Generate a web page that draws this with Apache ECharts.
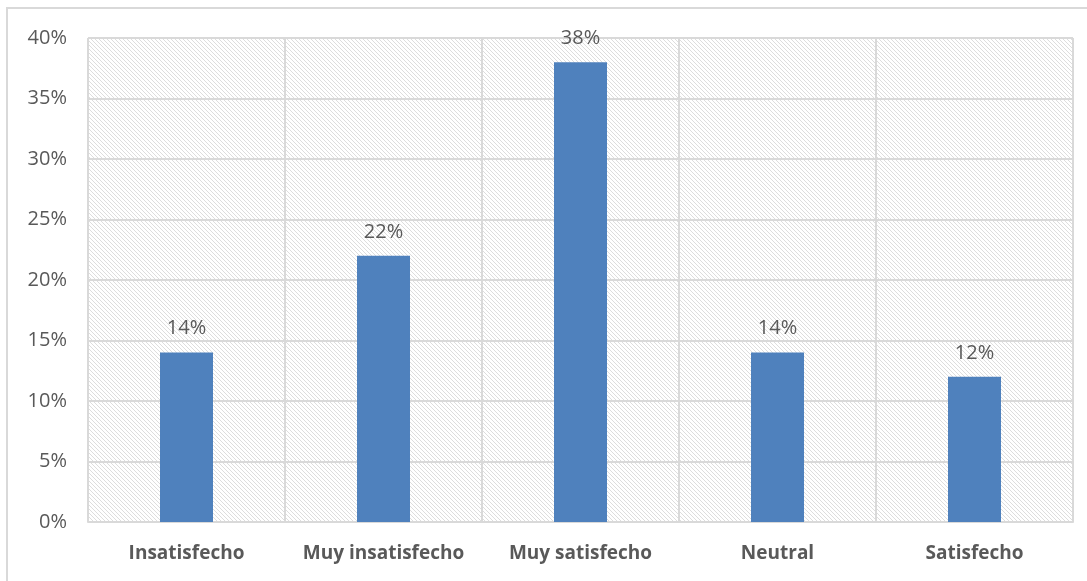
<!DOCTYPE html>
<html>
<head>
<meta charset="utf-8">
<script src="https://cdn.jsdelivr.net/npm/echarts@6/dist/echarts.min.js"></script>
<style>
  html, body { margin: 0; padding: 0; background: #ffffff; }
  #frame { position: absolute; left: 6px; top: 7px; width: 1100px; height: 600px;
           border-left: 2px solid #d9d9d9; border-top: 2px solid #d9d9d9; }
  #chart { position: absolute; left: 0; top: 0; width: 1087px; height: 581px; }
</style>
</head>
<body>
<div id="frame"></div>
<div id="chart"></div>
<script>
// Survey responses: share of each satisfaction level (percent)
const categories = ['Insatisfecho', 'Muy insatisfecho', 'Muy satisfecho', 'Neutral', 'Satisfecho'];
const shares = [14, 22, 38, 14, 12];
const yTicks = { min: 0, max: 40, interval: 5 };

// Light diagonal hatch used as the plot background
function hatchPattern() {
  const s = 4;
  const c = document.createElement('canvas');
  c.width = s; c.height = s;
  const ctx = c.getContext('2d');
  ctx.fillStyle = '#ffffff';
  ctx.fillRect(0, 0, s, s);
  ctx.strokeStyle = '#dddddd';
  ctx.lineWidth = 1;
  ctx.beginPath();
  ctx.moveTo(-1, -1); ctx.lineTo(s + 1, s + 1);
  ctx.moveTo(-1, s - 1); ctx.lineTo(1, s + 1);
  ctx.moveTo(s - 1, -1); ctx.lineTo(s + 1, 1);
  ctx.stroke();
  return { image: c, repeat: 'repeat' };
}

const chart = echarts.init(document.getElementById('chart'));
chart.setOption({
  animation: false,
  textStyle: { fontFamily: 'Open Sans' },
  grid: {
    left: 88, right: 14, top: 38, bottom: 59,
    show: true,
    backgroundColor: hatchPattern(),
    borderWidth: 0
  },
  xAxis: {
    type: 'category',
    data: categories,
    axisTick: { show: false, interval: 0 },
    axisLine: { show: true, lineStyle: { color: '#d9d9d9', width: 2 } },
    splitLine: { show: true, interval: 0, lineStyle: { color: '#d9d9d9', width: 2 } },
    axisLabel: { interval: 0, hideOverlap: false, color: '#595959', fontSize: 19, fontWeight: 'bold', margin: 22, fontFamily: 'Open Sans' }
  },
  yAxis: {
    type: 'value',
    min: yTicks.min, max: yTicks.max, interval: yTicks.interval,
    axisLine: { show: false },
    axisTick: { show: false },
    splitLine: { show: true, lineStyle: { color: '#d9d9d9', width: 2 } },
    axisLabel: { color: '#595959', fontSize: 20, margin: 21, formatter: '{value}%', fontFamily: 'Open Sans' }
  },
  series: [{
    type: 'bar',
    data: shares,
    barWidth: 53,
    itemStyle: { color: '#4f81bd' },
    label: {
      show: true, position: 'top', distance: 14,
      color: '#595959', fontSize: 20, formatter: '{c}%', fontFamily: 'Open Sans'
    }
  }]
});
</script>
</body>
</html>
